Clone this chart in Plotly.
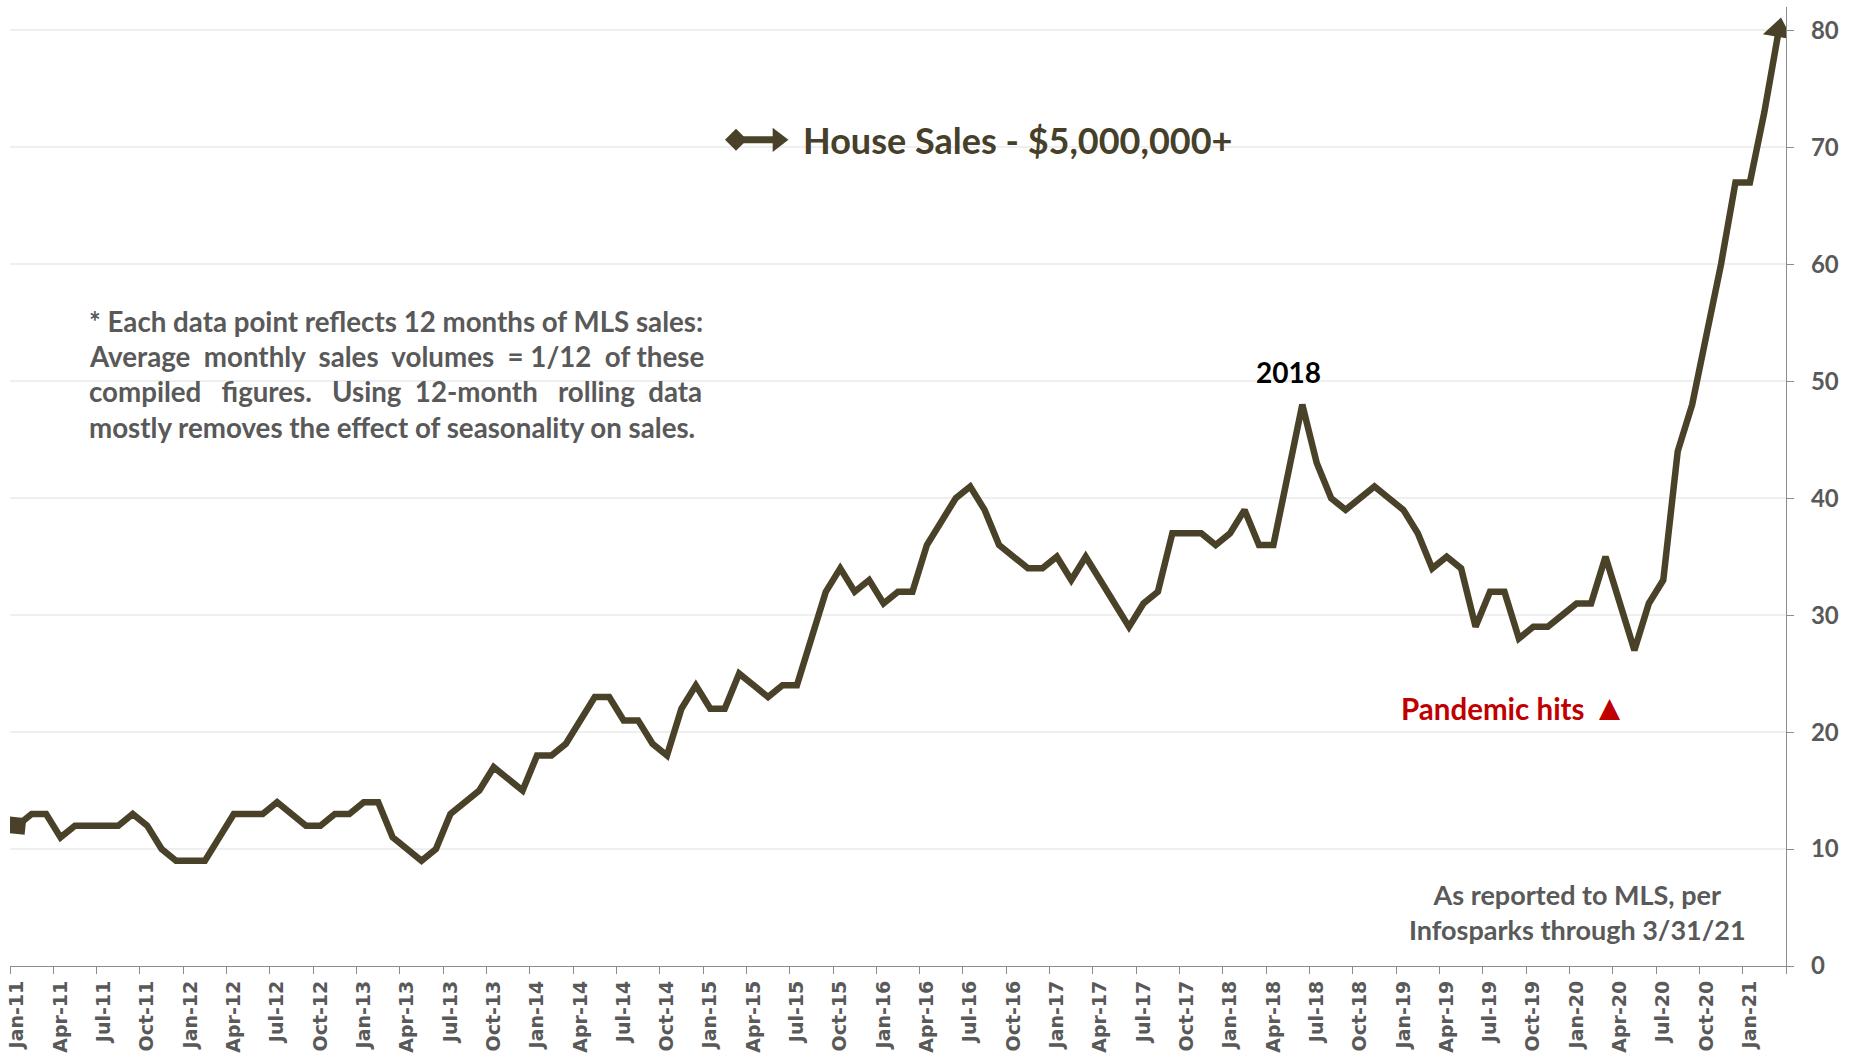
import plotly.graph_objects as go
import pandas as pd

# ---------------- data ----------------
months = pd.date_range("2011-01-01", "2021-03-01", freq="MS").strftime("%b-%y").tolist()
sales = [12, 13, 13, 11, 12, 12, 12, 12, 13, 12, 10, 9,
         9, 9, 11, 13, 13, 13, 14, 13, 12, 12, 13, 13,
         14, 14, 11, 10, 9, 10, 13, 14, 15, 17, 16, 15,
         18, 18, 19, 21, 23, 23, 21, 21, 19, 18, 22, 24,
         22, 22, 25, 24, 23, 24, 24, 28, 32, 34, 32, 33,
         31, 32, 32, 36, 38, 40, 41, 39, 36, 35, 34, 34,
         35, 33, 35, 33, 31, 29, 31, 32, 37, 37, 37, 36,
         37, 39, 36, 36, 42, 48, 43, 40, 39, 40, 41, 40,
         39, 37, 34, 35, 34, 29, 32, 32, 28, 29, 29, 30,
         31, 31, 35, 31, 27, 31, 33, 44, 48, 54, 60, 67,
         67, 73, 80]
series_name = "House Sales - $5,000,000+"
y_ticks = [0, 10, 20, 30, 40, 50, 60, 70, 80]

# ---------------- styles ----------------
LINE = "#494229"
GRAY = "#595959"
AXIS = "#8c8c8c"
GRID = "#efefef"
W, H = 1852, 1059
ML, MR, MT, MB = 10, 66, 7, 93
PW, PH = W - ML - MR, H - MT - MB


def px(xf):
    return (xf - ML) / PW


def py(yf):
    return (H - MB - yf) / PH


n = len(sales)
symbols = ["circle"] * (n - 1) + ["triangle-up"]
sizes = [0] * (n - 1) + [26]

fig = go.Figure()
fig.add_trace(go.Scatter(
    x=months, y=sales, mode="lines+markers", name=series_name,
    line=dict(color=LINE, width=6.5),
    marker=dict(symbol=symbols, size=sizes, color=LINE, angleref="previous",
                line=dict(width=0), opacity=1),
    showlegend=False, hoverinfo="x+y",
))
# start-of-line diamond head
fig.add_trace(go.Scatter(
    x=months[:1], y=sales[:1], mode="markers",
    marker=dict(symbol="diamond", size=18, angle=51, color=LINE, line=dict(width=0)),
    showlegend=False, hoverinfo="skip",
))

# legend glyph (diamond -- arrow) on a hidden overlay axis
fig.add_trace(go.Scatter(
    x=[0.4088, 0.4324], y=[0.8615, 0.8615], mode="lines+markers",
    xaxis="x2", yaxis="y2",
    line=dict(color=LINE, width=7),
    marker=dict(symbol=["diamond", "triangle-right"], size=[17, 21], color=LINE,
                line=dict(width=0), opacity=1),
    showlegend=False, hoverinfo="skip", cliponaxis=False,
))

fig.update_layout(
    width=W, height=H, template="none",
    paper_bgcolor="white", plot_bgcolor="white",
    margin=dict(l=ML, r=MR, t=MT, b=MB, autoexpand=False),
    font=dict(family="Lato", color=GRAY),
    showlegend=False,
    xaxis=dict(
        type="category", range=[-0.5, n - 0.5],
        tickmode="linear", tick0=0, dtick=3, tickson="boundaries",
        ticks="outside", ticklen=7, tickwidth=1, tickcolor=AXIS,
        tickangle=-90, ticklabelstandoff=6,
        tickfont=dict(family="DejaVu Sans", size=19, color=GRAY, weight="bold"),
        showline=True, linecolor=AXIS, linewidth=1.2,
        showgrid=False, zeroline=False, automargin=False,
    ),
    yaxis=dict(
        side="right", range=[0, 82], tickmode="array", tickvals=y_ticks,
        ticks="outside", ticklen=7, tickwidth=1, tickcolor=AXIS,
        ticklabelstandoff=12,
        tickfont=dict(family="Lato", size=24, color=GRAY, weight="bold"),
        showline=True, linecolor=AXIS, linewidth=1.2,
        showgrid=True, gridcolor=GRID, gridwidth=1.5,
        zeroline=False, automargin=False,
    ),
    xaxis2=dict(overlaying="x", range=[0, 1], visible=False, fixedrange=True),
    yaxis2=dict(overlaying="y", range=[0, 1], visible=False, fixedrange=True),
)

# white boxes hiding gridlines behind texts
fig.add_shape(type="rect", xref="paper", yref="paper", layer="between",
              x0=px(599), x1=px(1366), y0=py(180), y1=py(100),
              fillcolor="white", line=dict(width=0))
fig.add_shape(type="rect", xref="paper", yref="paper", layer="between",
              x0=px(66), x1=px(723), y0=py(445), y1=py(300),
              fillcolor="white", line=dict(width=0))

# legend text
fig.add_annotation(xref="paper", yref="paper", x=px(801), y=py(139.5),
                   xanchor="left", yanchor="middle", showarrow=False,
                   text="<b>" + series_name + "</b>",
                   font=dict(family="Lato", size=36, color="#46402a"))

# note (justified look via extra non-breaking spaces)
NB = "\u00a0"
note_lines = [
    "* Each data point reflects 12 months of MLS sales:",
    "Average" + NB + " monthly" + NB + " sales" + NB + " volumes" + NB + " = 1/12" + NB + " of these",
    "compiled" + NB * 2 + " figures." + NB * 2 + " Using" + NB + " 12-month" + NB * 2 + " rolling" + NB + " data",
    "mostly removes the effect of seasonality on sales.",
]
note_y = [321, 356.5, 392, 427.5]
for t, yy in zip(note_lines, note_y):
    fig.add_annotation(xref="paper", yref="paper", x=px(87), y=py(yy),
                       xanchor="left", yanchor="middle", showarrow=False,
                       text="<b>" + t + "</b>",
                       font=dict(family="Lato", size=27.7, color=GRAY))

# 2018 label
fig.add_annotation(xref="paper", yref="paper", x=px(1288.5), y=py(372),
                   xanchor="center", yanchor="middle", showarrow=False,
                   text="<b>2018</b>", font=dict(family="Lato", size=28, color="black"))

# pandemic label
fig.add_annotation(xref="paper", yref="paper", x=px(1514), y=py(706),
                   xanchor="center", yanchor="middle", showarrow=False,
                   text="<b>Pandemic hits </b><span style='font-size:36px'>\u25B2</span>",
                   font=dict(family="Lato", size=29.5, color="#c00000"))

# source
fig.add_annotation(xref="paper", yref="paper", x=px(1577), y=py(911.5),
                   xanchor="center", yanchor="middle", showarrow=False, align="center",
                   text="<b>As reported to MLS, per<br>Infosparks through 3/31/21</b>",
                   font=dict(family="Lato", size=27, color=GRAY))

fig.write_html("out.html", config={"displayModeBar": False},
               post_script="document.body.style.margin='0';document.body.style.overflow='hidden';")
